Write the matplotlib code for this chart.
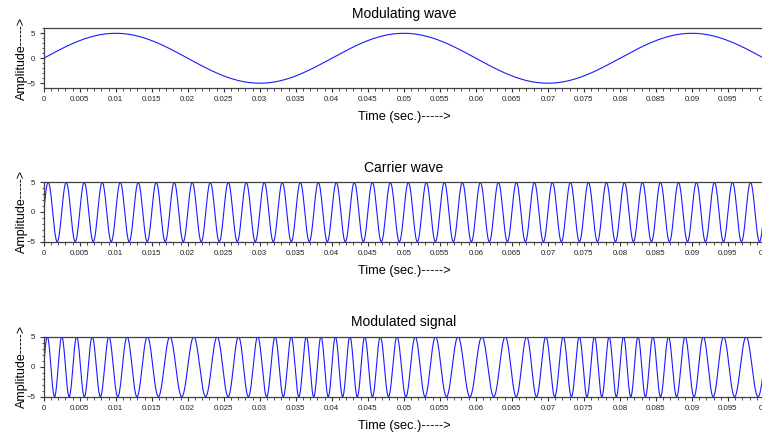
import numpy as np
import matplotlib
matplotlib.use('Agg')
import matplotlib.pyplot as plt
from matplotlib.ticker import MultipleLocator, FormatStrFormatter

plt.rcParams['font.family'] = ['Liberation Sans', 'DejaVu Sans']

# signal parameters
amplitude = 5      # peak amplitude of all three signals
fm = 25            # modulating frequency (Hz), period 0.04 s
fc = 400           # carrier frequency (Hz), ~40 cycles in 0.1 s
beta = 4           # modulation index (freq swings 300..500 Hz)
t_end = 0.1

titles = ['Modulating wave', 'Carrier wave', 'Modulated signal']
xlabel = 'Time (sec.)----->'
ylabel = 'Amplitude----->'
ylims = [(-5.9, 6.0), (-5, 5), (-5, 5)]

t = np.arange(0, t_end + 1e-6, 2e-6)
modulating = amplitude * np.sin(2 * np.pi * fm * t)
carrier = amplitude * np.sin(2 * np.pi * fc * t)
modulated = amplitude * np.sin(2 * np.pi * fc * t + beta * np.sin(2 * np.pi * fm * t))
signals = [modulating, carrier, modulated]

W, H = 762, 432
fig = plt.figure(figsize=(W / 100, H / 100), dpi=100)

# axes boxes in pixels: (top, bottom)
boxes = [(28.3, 87.7), (182.3, 241.7), (336.7, 396.7)]
left_px, right_px = 43.7, 764.0

for sig, title, (top, bot), yl in zip(signals, titles, boxes, ylims):
    ax = fig.add_axes([left_px / W, 1 - bot / H, (right_px - left_px) / W, (bot - top) / H])
    ax.plot(t, sig, color='#1a1aff', lw=0.8)
    ax.set_xlim(0, t_end)
    ax.set_ylim(*yl)
    ax.xaxis.set_major_locator(MultipleLocator(0.005))
    ax.xaxis.set_minor_locator(MultipleLocator(0.001))
    ax.xaxis.set_major_formatter(FormatStrFormatter('%g'))
    ax.yaxis.set_major_locator(MultipleLocator(5))
    ax.yaxis.set_minor_locator(MultipleLocator(1))
    ax.tick_params(which='major', length=3, width=0.8, labelsize=5.7, pad=3,
                   colors='#333333', labelcolor='#222222')
    ax.tick_params(which='minor', length=1.8, width=0.6, colors='#333333')
    for s in ax.spines.values():
        s.set_color('#404040')
        s.set_linewidth(0.9)
    ax.set_title(title, fontsize=10, pad=7.5)
    ax.set_xlabel(xlabel, fontsize=9.2, labelpad=5.5)
    ax.set_ylabel(ylabel, fontsize=9, labelpad=-1)

fig.savefig('out.png', dpi=100)
